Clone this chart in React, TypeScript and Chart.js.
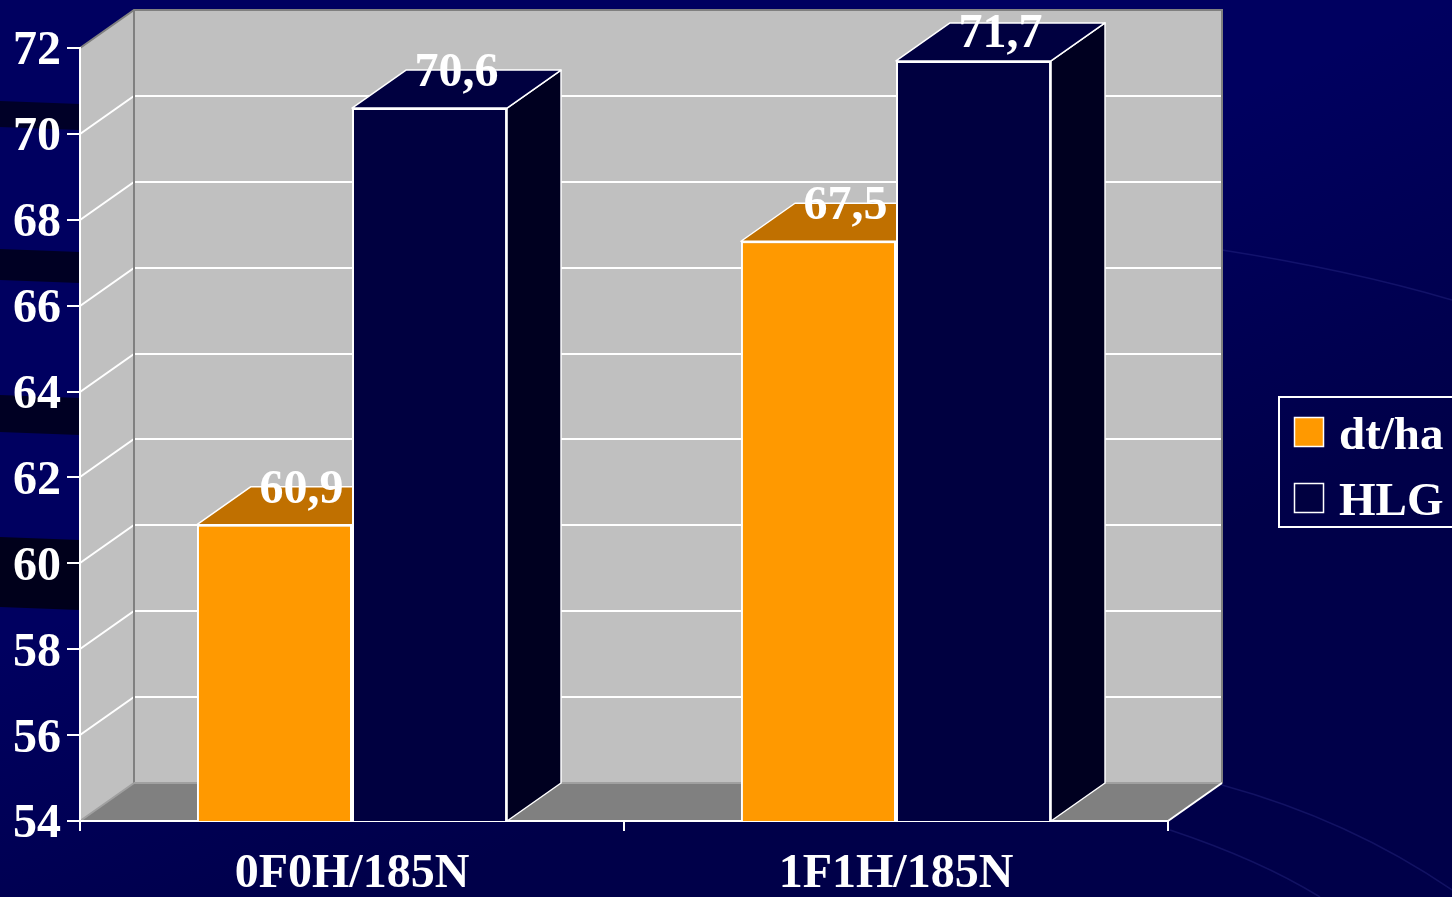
import React, { useEffect, useRef } from "react";
import { Chart, registerables } from "chart.js";

Chart.register(...registerables);

// ---------- data ----------
const categories = ["0F0H/185N", "1F1H/185N"];
const seriesNames = ["dt/ha", "HLG"];
const dtHaValues = [60.9, 67.5];
const hlgValues = [70.6, 71.7];
const yTicks = [54, 56, 58, 60, 62, 64, 66, 68, 70, 72];

// ---------- style ----------
const FONT = "'Liberation Serif', 'Times New Roman', serif";
const FRONT = ["#FF9900", "#000040"];
const TOP = ["#C07000", "#000040"];
const SIDE = ["#A05A00", "#000020"];
const DX = 54;
const DY = 38;

const fmt = (v: number) => v.toFixed(1).replace(".", ",");

function poly(ctx: CanvasRenderingContext2D, pts: number[][]) {
  ctx.beginPath();
  ctx.moveTo(pts[0][0], pts[0][1]);
  for (let i = 1; i < pts.length; i++) ctx.lineTo(pts[i][0], pts[i][1]);
  ctx.closePath();
}

const scenePlugin = {
  id: "scene3d",
  beforeDraw(chart: any) {
    const { ctx, width, height, chartArea: a } = chart;
    ctx.save();
    // background
    ctx.fillStyle = "#000060";
    ctx.fillRect(0, 0, width, height);
    const g = ctx.createLinearGradient(0, 0, 400, height);
    g.addColorStop(0, "rgba(0,0,30,0)");
    g.addColorStop(0.6, "rgba(0,0,30,0)");
    g.addColorStop(1, "rgba(0,0,30,0.35)");
    ctx.fillStyle = g;
    ctx.fillRect(0, 0, width, height);
    // dark streaks on the left
    const streaks = [
      [104, 130, 0.75],
      [252, 283, 0.8],
      [398, 435, 0.8],
      [540, 610, 0.9],
    ];
    for (const [y0, y1, al] of streaks) {
      ctx.fillStyle = `rgba(0,0,20,${al})`;
      poly(ctx, [
        [0, y0 - 3],
        [160, y0 + 3],
        [160, y1 + 3],
        [0, y1 - 3],
      ]);
      ctx.fill();
    }
    // faint swooshes at right
    ctx.strokeStyle = "rgba(60,60,160,0.3)";
    ctx.lineWidth = 1.5;
    ctx.beginPath();
    ctx.moveTo(1222, 250);
    ctx.quadraticCurveTo(1350, 270, 1452, 300);
    ctx.moveTo(1222, 785);
    ctx.quadraticCurveTo(1350, 820, 1452, 890);
    ctx.moveTo(1170, 830);
    ctx.quadraticCurveTo(1260, 860, 1320, 897);
    ctx.stroke();

    const L = a.left, R = a.right, T = a.top, B = a.bottom;
    // back wall
    ctx.fillStyle = "#C0C0C0";
    ctx.fillRect(L + DX, T - DY, R - L, B - T);
    // left wall
    poly(ctx, [
      [L, T],
      [L + DX, T - DY],
      [L + DX, B - DY],
      [L, B],
    ]);
    ctx.fill();
    // floor
    ctx.fillStyle = "#808080";
    poly(ctx, [
      [L, B],
      [R, B],
      [R + DX, B - DY],
      [L + DX, B - DY],
    ]);
    ctx.fill();
    // gridlines
    const ys = chart.scales.y;
    ctx.strokeStyle = "#FFFFFF";
    ctx.lineWidth = 2;
    ctx.beginPath();
    for (const v of yTicks) {
      if (v === yTicks[0] || v === yTicks[yTicks.length - 1]) continue;
      const py = Math.round(ys.getPixelForValue(v));
      ctx.moveTo(L, py);
      ctx.lineTo(L + DX, py - DY);
      ctx.lineTo(R + DX, py - DY);
    }
    ctx.stroke();
    // wall edges
    ctx.strokeStyle = "#808080";
    ctx.lineWidth = 2;
    ctx.beginPath();
    ctx.moveTo(L, T);
    ctx.lineTo(L + DX, T - DY);
    ctx.lineTo(R + DX, T - DY);
    ctx.lineTo(R + DX, B - DY);
    ctx.moveTo(L + DX, T - DY);
    ctx.lineTo(L + DX, B - DY);
    ctx.stroke();
    ctx.strokeStyle = "#A0A0A0";
    ctx.beginPath();
    ctx.moveTo(L + DX, B - DY);
    ctx.lineTo(R + DX, B - DY);
    ctx.moveTo(L, B);
    ctx.lineTo(L + DX, B - DY);
    ctx.stroke();
    ctx.strokeStyle = "#FFFFFF";
    ctx.beginPath();
    ctx.moveTo(R, B);
    ctx.lineTo(R + DX, B - DY);
    ctx.stroke();
    ctx.restore();
  },
  beforeDatasetsDraw(chart: any) {
    const ctx = chart.ctx as CanvasRenderingContext2D;
    const a = chart.chartArea;
    const n = chart.data.labels.length;
    const nd = chart.data.datasets.length;
    ctx.save();
    ctx.strokeStyle = "#FFFFFF";
    ctx.lineWidth = 1.5;
    ctx.lineJoin = "round";
    for (let c = 0; c < n; c++) {
      for (let d = 0; d < nd; d++) {
        const el = chart.getDatasetMeta(d).data[c];
        const { x, y, base: rawBase, width } = el.getProps(["x", "y", "base", "width"], true);
        const base = Math.min(rawBase, a.bottom);
        const xl = x - width / 2;
        const xr = x + width / 2;
        ctx.fillStyle = SIDE[d];
        poly(ctx, [
          [xr, y],
          [xr + DX, y - DY],
          [xr + DX, base - DY],
          [xr, base],
        ]);
        ctx.fill();
        ctx.stroke();
        ctx.fillStyle = TOP[d];
        poly(ctx, [
          [xl, y],
          [xr, y],
          [xr + DX, y - DY],
          [xl + DX, y - DY],
        ]);
        ctx.fill();
        ctx.stroke();
      }
    }
    ctx.restore();
  },
  afterDatasetsDraw(chart: any) {
    const ctx = chart.ctx as CanvasRenderingContext2D;
    const a = chart.chartArea;
    ctx.save();
    ctx.font = `bold 48px ${FONT}`;
    ctx.fillStyle = "#FFFFFF";
    ctx.textAlign = "center";
    ctx.textBaseline = "alphabetic";
    chart.data.datasets.forEach((ds: any, d: number) => {
      chart.getDatasetMeta(d).data.forEach((el: any, i: number) => {
        const { x, y } = el.getProps(["x", "y"], true);
        const by = Math.max(y - DY + 16, a.top - 1);
        ctx.fillText(fmt(ds.data[i]), x + DX / 2, by);
      });
    });
    ctx.restore();
  },
  afterDraw(chart: any) {
    const ctx = chart.ctx as CanvasRenderingContext2D;
    ctx.save();
    ctx.strokeStyle = "#FFFFFF";
    ctx.lineWidth = 2;
    ctx.strokeRect(1279, 397, 200, 130);
    ctx.font = `bold 47px ${FONT}`;
    ctx.textAlign = "left";
    ctx.textBaseline = "alphabetic";
    chart.data.datasets.forEach((ds: any, d: number) => {
      const sy = 417 + d * 66;
      ctx.fillStyle = FRONT[d];
      ctx.fillRect(1294, sy, 30, 30);
      ctx.lineWidth = 1.5;
      ctx.strokeRect(1294.5, sy + 0.5, 29, 29);
      ctx.fillStyle = "#FFFFFF";
      ctx.fillText(ds.label, 1339, sy + 32);
    });
    ctx.restore();
  },
};

export default function App() {
  const ref = useRef<HTMLCanvasElement | null>(null);
  useEffect(() => {
    document.body.style.margin = "0";
    document.body.style.background = "#000060";
    const canvas = ref.current;
    if (!canvas) return;
    const font = { family: FONT, size: 48, weight: "bold" as const };
    const chart = new Chart(canvas, {
      type: "bar",
      data: {
        labels: categories,
        datasets: [
          {
            label: seriesNames[0],
            data: dtHaValues,
            backgroundColor: FRONT[0],
            borderColor: "#FFFFFF",
            borderWidth: 2,
            borderSkipped: false,
          },
          {
            label: seriesNames[1],
            data: hlgValues,
            backgroundColor: FRONT[1],
            borderColor: "#FFFFFF",
            borderWidth: 2,
            borderSkipped: false,
          },
        ],
      },
      options: {
        responsive: false,
        animation: false,
        events: [],
        layout: { padding: { top: 48, right: 284, left: 0, bottom: 0 } },
        datasets: { bar: { categoryPercentage: 0.57, barPercentage: 1 } },
        plugins: { legend: { display: false }, tooltip: { enabled: false } },
        scales: {
          x: {
            grid: {
              offset: true,
              drawOnChartArea: false,
              drawTicks: true,
              tickLength: 10,
              color: "#FFFFFF",
              lineWidth: 2,
            },
            border: { display: true, color: "#FFFFFF", width: 2 },
            ticks: { color: "#FFFFFF", font, padding: 15, maxRotation: 0, autoSkip: false },
            afterFit: (s: any) => {
              s.height = 76;
            },
          },
          y: {
            min: yTicks[0],
            max: yTicks[yTicks.length - 1],
            afterBuildTicks: (s: any) => {
              s.ticks = yTicks.map((v) => ({ value: v }));
            },
            ticks: { color: "#FFFFFF", font, padding: 6, labelOffset: 4 },
            grid: {
              drawOnChartArea: false,
              drawTicks: true,
              tickLength: 13,
              color: "#FFFFFF",
              lineWidth: 2,
            },
            border: { display: true, color: "#FFFFFF", width: 2 },
            afterFit: (s: any) => {
              s.width = 80;
            },
          },
        },
      },
      plugins: [scenePlugin],
    });
    return () => chart.destroy();
  }, []);
  return (
    <div style={{ width: 1452, height: 897, overflow: "hidden" }}>
      <canvas ref={ref} width={1452} height={897} style={{ display: "block" }} />
    </div>
  );
}
